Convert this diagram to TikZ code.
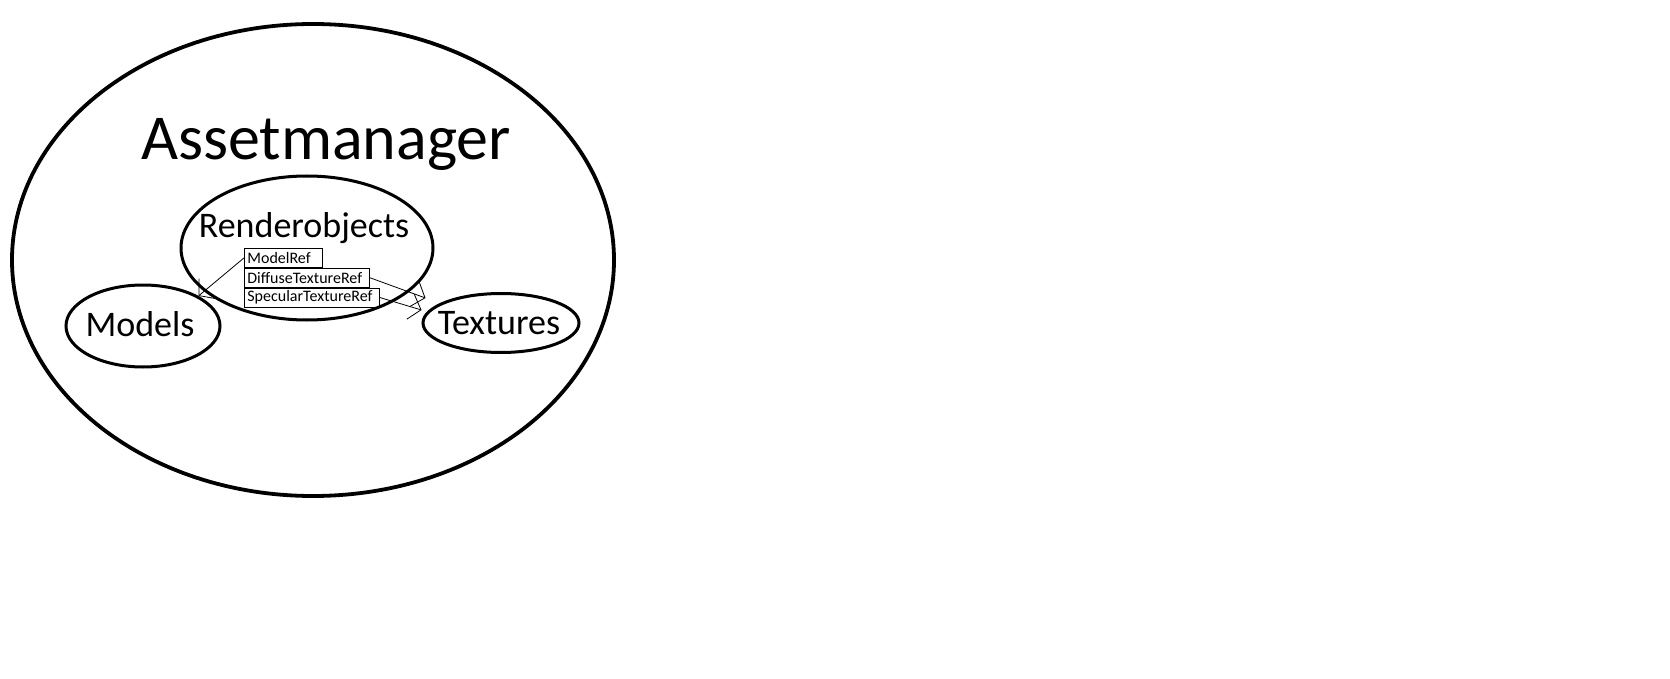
\documentclass[tikz,border=0pt]{standalone}
\usepackage{fontspec}
\setmainfont{Carlito}
\usetikzlibrary{shapes.geometric, arrows.meta, positioning}

\begin{document}
\begin{tikzpicture}[x=1pt, y=-1pt,
    blob/.style={draw, ellipse, line width=3pt, inner sep=0pt},
    bigtext/.style={font=\fontsize{36}{40}\selectfont},
    refbox/.style={draw, line width=0.8pt, inner xsep=3pt, inner ysep=0pt, minimum height=19pt,
                   align=left, font=\fontsize{16}{18}\selectfont},
    refarrow/.style={line width=0.8pt, -{Straight Barb[angle=100:17pt]}}]
            \path[use as bounding box, fill=white] (0,0) rectangle (1670,679);

            % Outer ellipse
            \node[blob, line width=3.8pt, minimum width=602pt, minimum height=472pt] (am) at (313,260) {};
            \node[anchor=base, font=\fontsize{64}{70}\selectfont] (amtxt) at (326,160) {Assetmanager};

            % Inner ellipses
            \node[blob, minimum width=252pt, minimum height=144pt] (robj) at (307,248) {};
            \node[bigtext, anchor=base] (robjtxt) at (304,237) {Renderobjects};
            \node[blob, minimum width=154pt, minimum height=82pt,
                  label={[bigtext, xshift=-3pt, yshift=2pt]center:Models}] (models) at (143,326) {};
            \node[blob, minimum width=156pt, minimum height=59pt,
                  label={[bigtext, xshift=-2pt]center:Textures}] (tex) at (501,323) {};

            % Reference boxes
            \node[refbox, anchor=north west, text width=72pt] (mref) at (244,248) {ModelRef};
            \node[refbox, text width=119pt, below right=0pt and 0pt of mref.south west] (dref) {DiffuseTextureRef};
            \node[refbox, text width=129pt, below right=0pt and 0pt of dref.south west] (sref) {SpecularTextureRef};

            % Arrows
            \draw[refarrow] (mref.west) -- (models.north east);
            \draw[refarrow] (dref.east) -- ([xshift=4pt, yshift=25pt]tex.west);
            \draw[refarrow] (sref.east) -- ([yshift=13pt]tex.west);
\end{tikzpicture}
\end{document}
